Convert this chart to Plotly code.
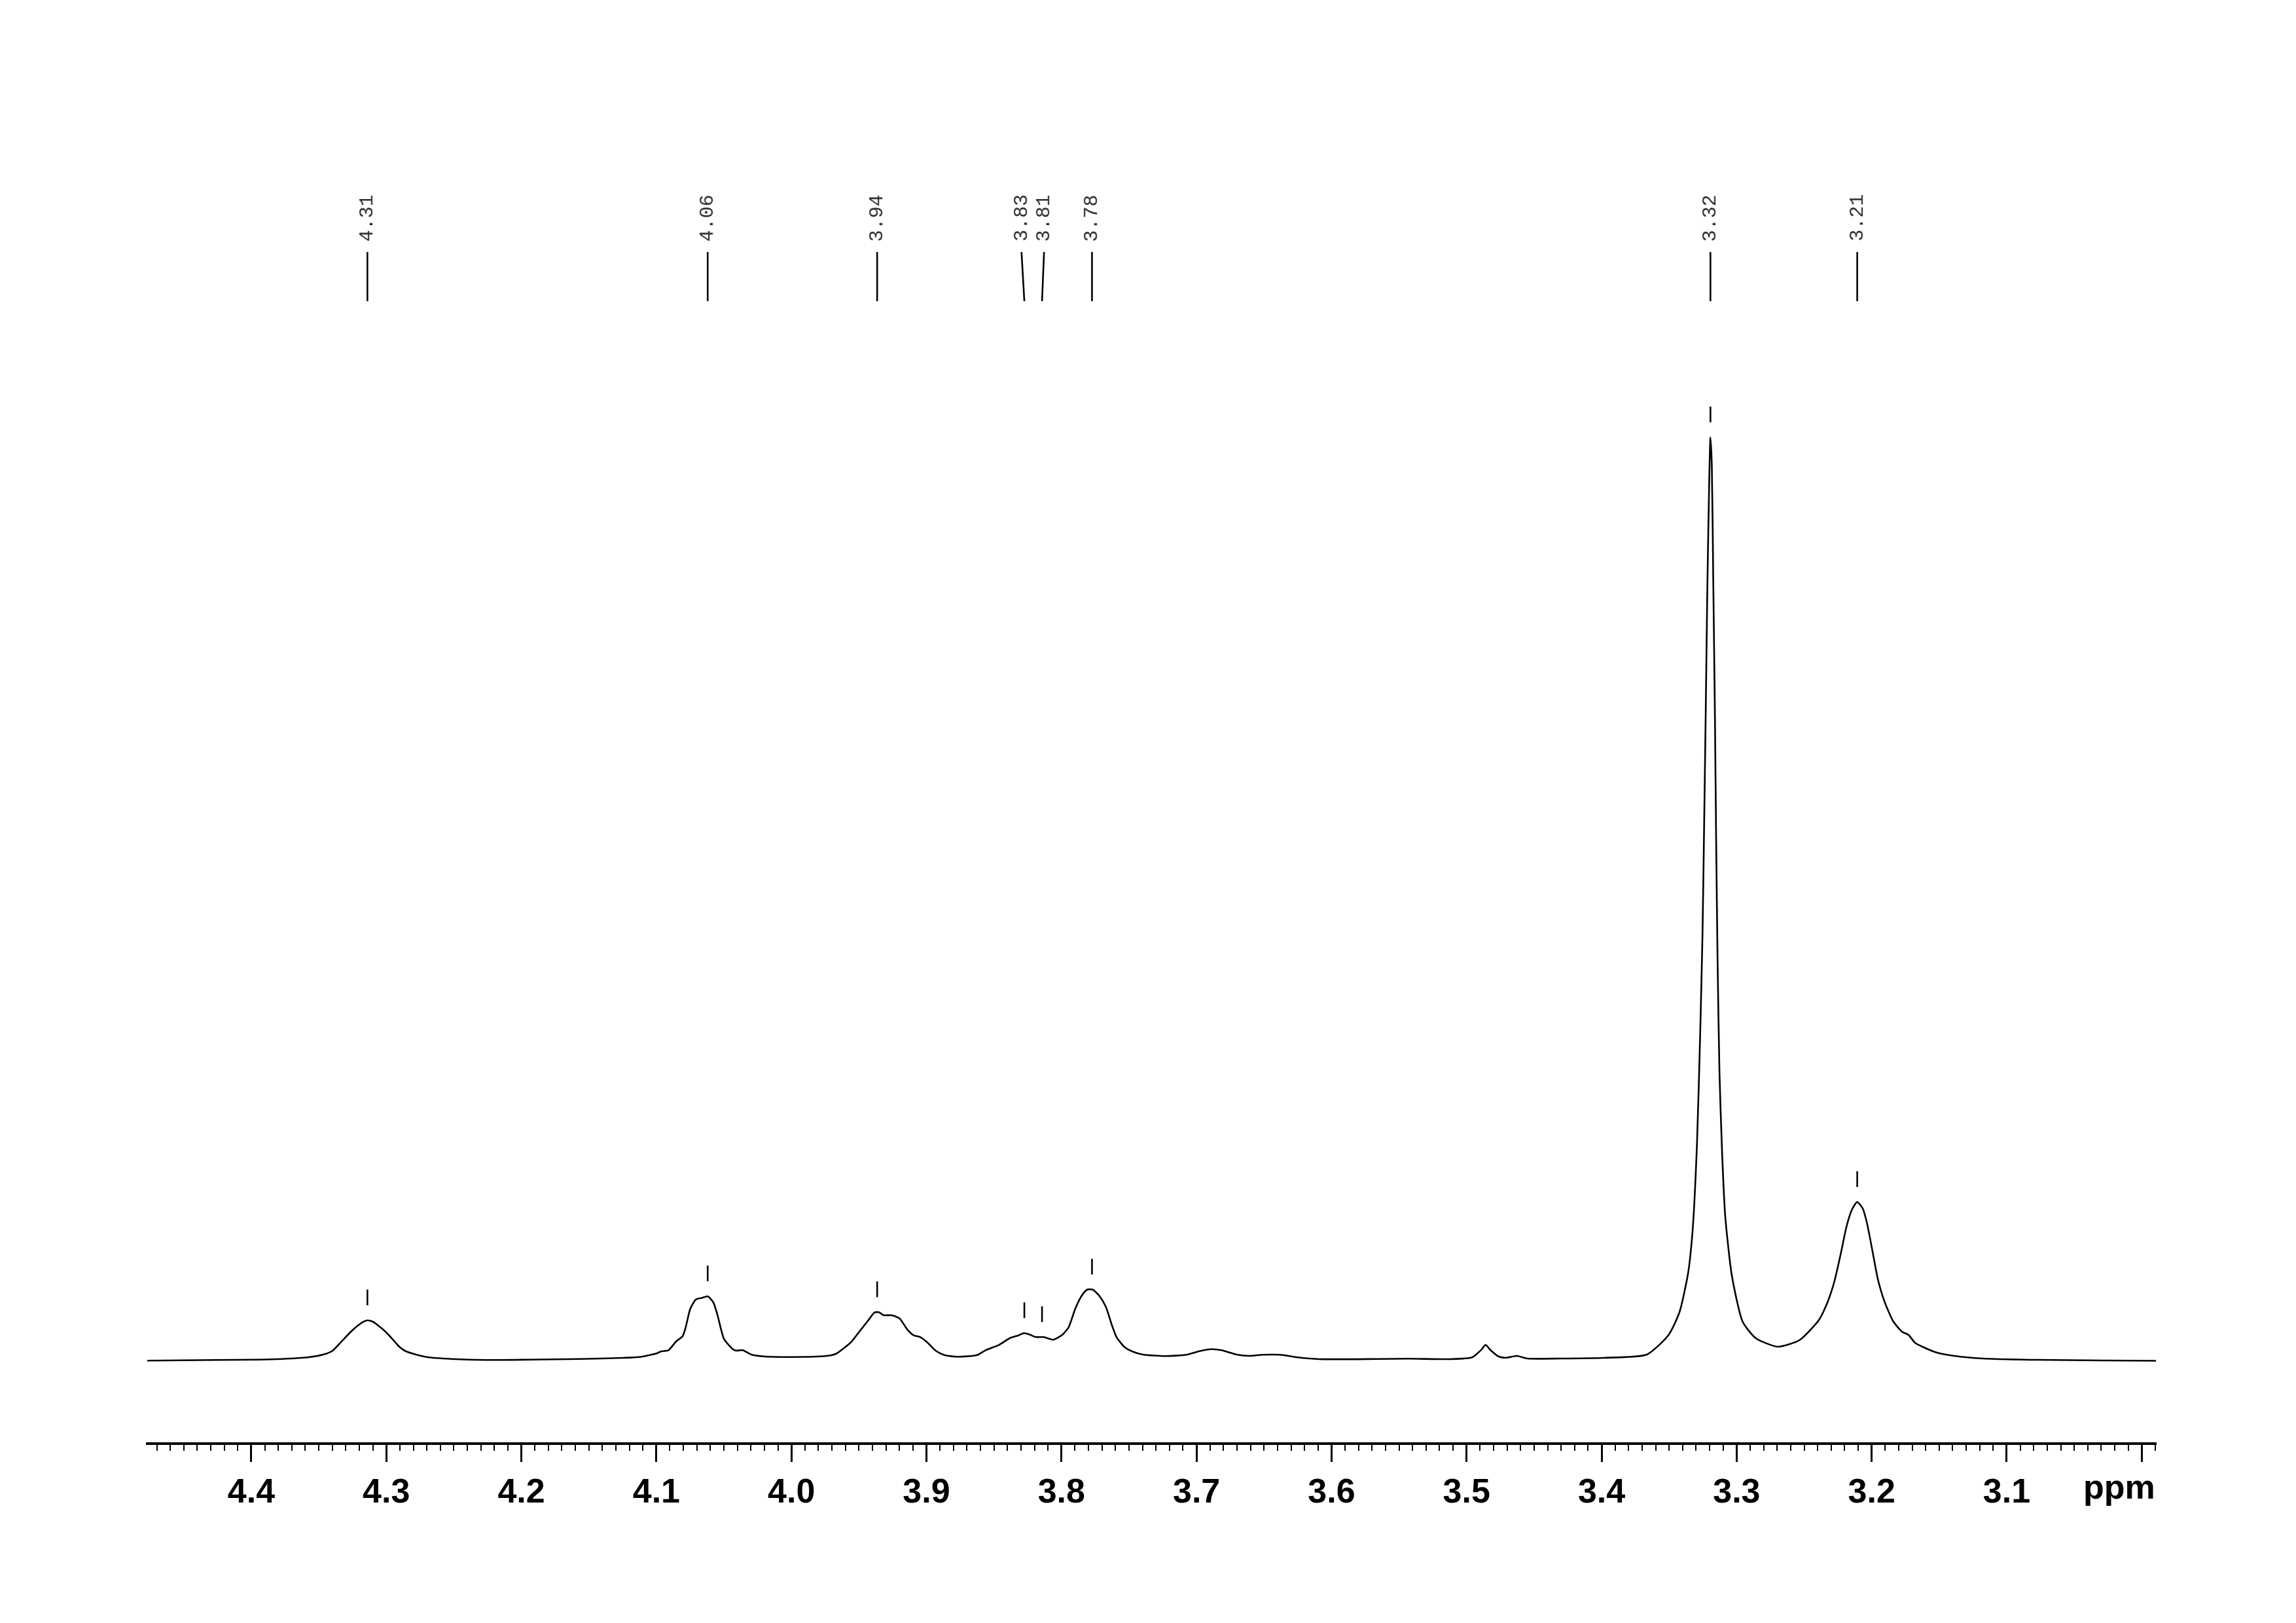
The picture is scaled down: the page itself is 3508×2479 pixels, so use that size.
import plotly.graph_objects as go

# ---- spectrum data (ppm, intensity) ----
ppm = [4.477, 4.452, 4.426, 4.394, 4.3775, 4.3583, 4.3455, 4.3397, 4.3359, 4.331,
       4.3262, 4.3213, 4.3165, 4.314, 4.3098, 4.305, 4.3001, 4.2953, 4.2905, 4.2864,
       4.2808, 4.2695, 4.2517, 4.2267, 4.1936, 4.1564, 4.1241, 4.1128, 4.0999, 4.0967,
       4.091, 4.0854, 4.0805, 4.0781, 4.0749, 4.0708, 4.066, 4.062, 4.0579, 4.0547,
       4.0523, 4.0498, 4.0434, 4.0409, 4.0361, 4.0297, 4.0208, 3.9998, 3.9748, 3.9675,
       3.9562, 3.9497, 3.9433, 3.9384, 3.9352, 3.9319, 3.9255, 3.9198, 3.9142, 3.9094,
       3.9045, 3.8997, 3.8932, 3.8867, 3.877, 3.8625, 3.8561, 3.8464, 3.8383, 3.8318,
       3.8278, 3.8238, 3.8189, 3.8132, 3.806, 3.7995, 3.7947, 3.7898, 3.785, 3.781,
       3.7769, 3.7721, 3.7672, 3.7624, 3.7592, 3.7535, 3.7478, 3.7398, 3.7228, 3.7075,
       3.6978, 3.6889, 3.6816, 3.6703, 3.6606, 3.6509, 3.638, 3.6251, 3.609, 3.5654,
       3.5427, 3.5121, 3.4959, 3.4894, 3.4859, 3.4822, 3.4765, 3.4709, 3.4628, 3.455,
       3.43, 3.3988, 3.3665, 3.3504, 3.3423, 3.3359, 3.3326, 3.3294, 3.327, 3.3253,
       3.3242, 3.3229, 3.3217, 3.3203, 3.3194, 3.3184, 3.3173, 3.3161, 3.3152, 3.3141,
       3.3127, 3.3108, 3.3084, 3.3035, 3.2955, 3.2858, 3.2696, 3.2535, 3.239, 3.2325,
       3.2277, 3.2228, 3.2187, 3.2147, 3.2107, 3.2066, 3.2035, 3.1994, 3.1954, 3.1905,
       3.1841, 3.1776, 3.1727, 3.1679, 3.1614, 3.1517, 3.1388, 3.1178, 3.0776, 3.029,
       2.9894]
intensity = [0.7, 1.3, 1.7, 2.3, 3.3, 5.7, 10.7, 16, 24, 34.7,
             45, 54, 60.7, 62.3, 60, 52.7, 44, 33.3, 22.3, 16,
             11.7, 6, 3.3, 1.7, 2.3, 3.3, 5, 6.3, 11.7, 14.7,
             16.7, 30, 38.3, 53.3, 80, 94, 96.7, 99, 90, 70,
             50, 33.3, 18.3, 16, 16.7, 10, 7.3, 6.3, 7.7, 10.7,
             28.3, 45, 61.7, 74.3, 74.7, 70.3, 70, 65, 48.3, 39.3,
             36.7, 29.3, 16, 9.3, 6.7, 9.3, 16.7, 24.7, 35, 39.3,
             42.7, 40.7, 36.7, 36.7, 32.7, 40, 51.7, 80, 100, 109.3,
             109.3, 100, 83.3, 53.3, 36.7, 21.7, 15, 10, 7.7, 9.7,
             15.3, 18.3, 16.7, 10, 8, 9.7, 9.7, 5.7, 3, 3.3,
             3.7, 3, 5.7, 16.7, 24.7, 16.7, 7.3, 5, 8, 4,
             4, 5, 10, 40, 75, 135, 200, 330, 500, 650,
             800, 990, 1180, 1345, 1411, 1370, 1190, 990, 800, 610,
             440, 320, 220, 130, 60, 35, 22, 32, 63, 91,
             121, 165, 205, 231, 243, 233, 211, 168, 125, 91,
             61, 45, 40, 28, 21, 13, 8, 4, 2, 1,
             0.5]

# ---- peak picking ----
peak_labels = ["4.31", "4.06", "3.94", "3.83", "3.81", "3.78", "3.32", "3.21"]
peak_ppm = [4.314, 4.062, 3.9365, 3.8275, 3.8144, 3.7774, 3.3194, 3.2107]
peak_int = [62.3, 99, 74.7, 42.7, 36.7, 109.3, 1411, 243]
label_ppm = [4.314, 4.062, 3.9365, 3.8296, 3.8129, 3.7774, 3.3194, 3.2107]

# axis
x_range = [4.478, 2.989]
major_vals = [4.4, 4.3, 4.2, 4.1, 4.0, 3.9, 3.8, 3.7, 3.6, 3.5, 3.4, 3.3, 3.2, 3.1, 3.0]
major_text = ["4.4", "4.3", "4.2", "4.1", "4.0", "3.9", "3.8", "3.7", "3.6", "3.5",
              "3.4", "3.3", "3.2", "3.1", ""]

fig = go.Figure()
fig.add_trace(go.Scatter(x=ppm, y=intensity, mode="lines",
                         line=dict(color="black", width=2.6, shape="spline", smoothing=0.6),
                         hoverinfo="skip", showlegend=False))

shapes = []
annotations = []
LINE_TOP, LINE_BOT, TEXT_Y = 1694, 1619, 1708
for lab, pp, pi, lp in zip(peak_labels, peak_ppm, peak_int, label_ppm):
    # small tick above the peak
    shapes.append(dict(type="line", xref="x", yref="y", x0=pp, x1=pp,
                       y0=pi + 23, y1=pi + 47, line=dict(color="black", width=2.6)))
    # label connector
    shapes.append(dict(type="line", xref="x", yref="y", x0=lp, x1=pp,
                       y0=LINE_TOP, y1=LINE_BOT, line=dict(color="black", width=2.6)))
    annotations.append(dict(x=lp, y=TEXT_Y, xref="x", yref="y", text=lab,
                            showarrow=False, textangle=-90, xanchor="center",
                            yanchor="bottom",
                            font=dict(family="Liberation Mono", size=30, color="#333333")))

annotations.append(dict(x=1, y=-0.0325, xref="paper", yref="paper", text="ppm",
                        showarrow=False, xanchor="right", yanchor="middle",
                        font=dict(family="Liberation Sans", size=52, color="black",
                                  weight="bold")))

fig.update_layout(
    width=3508, height=2479,
    margin=dict(l=223, r=213, t=100, b=276, pad=0),
    paper_bgcolor="white", plot_bgcolor="white",
    shapes=shapes, annotations=annotations,
    xaxis=dict(range=x_range, showgrid=False, zeroline=False,
               showline=True, linecolor="black", linewidth=4,
               ticks="outside", ticklen=26, tickwidth=3, tickcolor="black",
               tickmode="array", tickvals=major_vals, ticktext=major_text,
               tickfont=dict(family="Liberation Sans", size=52, color="black",
                             weight="bold"),
               minor=dict(dtick=0.01, tick0=0, ticks="outside", ticklen=9,
                          tickwidth=2, tickcolor="black", showgrid=False)),
    yaxis=dict(range=[-124, 1979], visible=False, showgrid=False, zeroline=False),
)

fig.write_html("out.html", config={"displayModeBar": False},
               post_script="document.body.style.margin='0';document.body.style.overflow='hidden';")
